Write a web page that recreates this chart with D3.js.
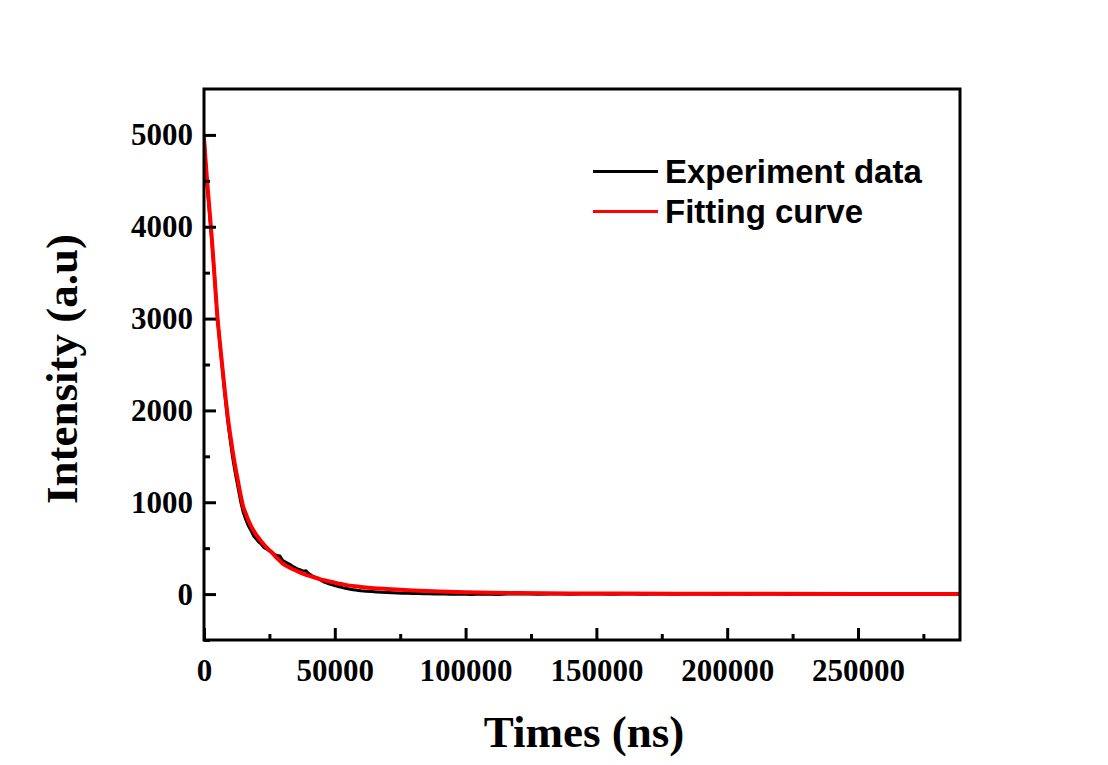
<!DOCTYPE html>
<html>
<head>
<meta charset="utf-8">
<script src="https://cdn.jsdelivr.net/npm/d3@7"></script>
<style>
  html, body { margin: 0; padding: 0; background: #fff; }
  svg { display: block; }
</style>
</head>
<body>
<svg id="chart" width="1108" height="765"></svg>
<script>
// ---- data ----
const xTicks = [0, 50000, 100000, 150000, 200000, 250000];
const xMinorTicks = [25000, 75000, 125000, 175000, 225000, 275000];
const yTicks = [0, 1000, 2000, 3000, 4000, 5000];
const yMinorTicks = [-500, 500, 1500, 2500, 3500, 4500];

const seriesNames = ["Experiment data", "Fitting curve"];

const expT = [0,1000,2000,3000,4000,5000,6000,7000,8000,9000,10000,11000,12000,13000,14000,15000,16000,17000,18000,19000,
  20000,21000,22000,23000,24000,25000,26000,27000,28000,29000,30000,31000,32000,33000,34000,35000,36000,37000,38000,39000,
  40000,41000,42000,43000,44000,45000,46000,47000,48000,49000,50000,51000,52000,53000,54000,55000,56000,57000,58000,59000,
  60000,62000,64000,66000,68000,70000,72000,74000,76000,78000,80000,82000,84000,86000,88000,90000,92000,94000,96000,98000,
  100000,102000,104000,106000,108000,110000,112000,114000,116000,118000,120000,
  124000,128000,132000,136000,140000,144000,148000,152000,156000,160000,164000,168000,172000,176000,180000,184000,188000,
  192000,196000,200000,204000,208000,212000,216000,220000,224000,228000,232000,236000,240000,244000,248000,252000,256000,
  260000,264000,268000,272000,276000,280000,284000,288000];
const expV = [4990,4510,4180,3840,3470,3060,2740,2450,2160,1900,1680,1480,1310,1160,1010,890,810,740,690,630,
  600,565,540,505,490,470,455,430,420,415,370,350,335,320,300,285,270,262,250,255,
  225,205,190,175,160,145,130,120,108,100,92,85,78,70,64,58,52,48,44,40,
  36,32,28,24,20,18,15,13,10,9,7,6,4,3,2,0,1,-2,0,-3,
  -2,-4,-1,-3,0,-2,-4,-1,1,0,2,
  1,-1,2,0,-2,1,3,0,-1,2,1,-2,0,2,-1,1,3,
  0,-2,1,2,-1,0,3,1,-1,2,0,1,4,2,0,3,1,
  2,0,1,3,1,2,0,1];

const fitT = [0,1000,2000,3000,4000,5000,6000,7000,8000,9000,10000,11000,12000,13000,14000,15000,16000,17000,18000,19000,
  20000,22000,24000,26000,28000,30000,32000,34000,36000,40000,43000,46000,50000,52000,55000,60000,65000,70000,80000,90000,
  100000,110000,120000,140000,160000,200000,250000,289000];
const fitV = [4960,4570,4220,3870,3470,3060,2760,2480,2200,1950,1740,1550,1380,1230,1080,950,875,800,740,690,
  645,570,505,450,390,335,300,270,245,200,175,150,125,112,95,78,64,55,40,28,
  20,15,11,7,5,3,2,2];

// ---- layout ----
const L = 204, R = 960, T = 89, B = 640;
const svg = d3.select("#chart");
svg.append("rect").attr("width", 1108).attr("height", 765).attr("fill", "#fff");

const x = d3.scaleLinear().domain([0, 289000]).range([L, R]);
const y = d3.scaleLinear().domain([-500, 5500]).range([B, T]);

svg.append("clipPath").attr("id", "clip").append("rect")
  .attr("x", L).attr("y", T).attr("width", R - L).attr("height", B - T);

const g = svg.append("g").attr("clip-path", "url(#clip)");

const lineExp = d3.line().x((d, i) => x(expT[i])).y(d => y(d)).curve(d3.curveLinear);
const lineFit = d3.line().x((d, i) => x(fitT[i])).y(d => y(d)).curve(d3.curveMonotoneX);

g.append("path").attr("d", lineExp(expV)).attr("fill", "none")
  .attr("stroke", "#000").attr("stroke-width", 3).attr("stroke-linejoin", "round");
g.append("path").attr("d", lineFit(fitV)).attr("fill", "none")
  .attr("stroke", "#ff0000").attr("stroke-width", 4).attr("stroke-linejoin", "round");

// axes
const tickFont = "'Liberation Serif', 'Times New Roman', serif";

const xAxis = svg.append("g").attr("transform", `translate(0,${B})`)
  .call(d3.axisBottom(x).tickValues(xTicks).tickSize(-12).tickPadding(19).tickFormat(d3.format("d")));
const xMinor = svg.append("g").attr("transform", `translate(0,${B})`)
  .call(d3.axisBottom(x).tickValues(xMinorTicks).tickSize(-6).tickFormat(""));
const yAxis = svg.append("g").attr("transform", `translate(${L},0)`)
  .call(d3.axisLeft(y).tickValues(yTicks).tickSize(-12).tickPadding(11).tickFormat(d3.format("d")));
const yMinor = svg.append("g").attr("transform", `translate(${L},0)`)
  .call(d3.axisLeft(y).tickValues(yMinorTicks).tickSize(-6).tickFormat(""));

[xAxis, xMinor, yAxis, yMinor].forEach(a => {
  a.select(".domain").remove();
  a.selectAll(".tick line").attr("stroke", "#000").attr("stroke-width", 3);
  a.selectAll(".tick text").attr("fill", "#000")
    .style("font-family", tickFont).style("font-weight", "bold").style("font-size", "31px");
});

// frame
svg.append("rect").attr("x", L).attr("y", T).attr("width", R - L).attr("height", B - T)
  .attr("fill", "none").attr("stroke", "#000").attr("stroke-width", 3);

// axis titles
svg.append("text").attr("x", 584).attr("y", 747).attr("text-anchor", "middle")
  .style("font-family", tickFont).style("font-weight", "bold").style("font-size", "45px")
  .text("Times (ns)");
svg.append("text").attr("transform", "translate(77,369) rotate(-90)").attr("text-anchor", "middle")
  .style("font-family", tickFont).style("font-weight", "bold").style("font-size", "45px")
  .text("Intensity (a.u)");

// legend
const legColors = ["#000", "#ff0000"];
const legY = [171.5, 211.5];
seriesNames.forEach((name, i) => {
  svg.append("line").attr("x1", 593).attr("x2", 658).attr("y1", legY[i]).attr("y2", legY[i])
    .attr("stroke", legColors[i]).attr("stroke-width", 3.2);
  svg.append("text").attr("x", 665).attr("y", legY[i] + 11)
    .style("font-family", "'Liberation Sans', Arial, sans-serif").style("font-weight", "bold")
    .style("font-size", "33px").attr("fill", "#000").text(name);
});
</script>
</body>
</html>
